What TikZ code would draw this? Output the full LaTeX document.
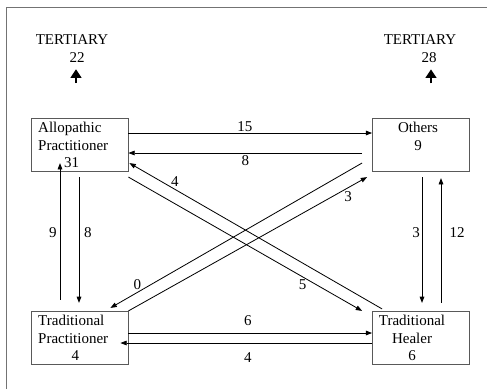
\documentclass[tikz,border=0pt]{standalone}
\usepackage{fontspec}
\setmainfont{Liberation Serif}
\usepackage{tikz}
\usetikzlibrary{arrows.meta,calc}

\begin{document}
\begin{tikzpicture}[x=0.03cm, y=-0.03cm,
    font=\fontsize{12.8}{15}\selectfont,
    box/.style={draw=black!65, line width=0.7pt, minimum width=2.91cm, minimum height=1.6cm, inner sep=0pt},
    txt/.style={inner sep=0pt},
    num/.style={inner sep=1pt},
    flow/.style={line width=0.7pt, -{Triangle[length=1.9mm, width=1.4mm]}},
    tert/.style={line width=2pt, -{Triangle[length=2.6mm, width=3.2mm]}}]
    \useasboundingbox (0,0) rectangle (487,389);

    % Frame
    \draw[black!55, line width=0.8pt] (6,389) -- (6,7) -- (487,7);

    % Tertiary referrals
    \node[txt] (tert1) at (72,40) {TERTIARY};
    \node[txt] (n22) at (77,58) {22};
    \coordinate (up1) at ($(n22.south)+(-1,20)$);
    \draw[tert] (up1) -- ++(0,-14);

    \node[txt] (tert2) at (420,40) {TERTIARY};
    \node[txt] (n28) at (429,58) {28};
    \coordinate (up2) at ($(n28.south)+(2,20)$);
    \draw[tert] (up2) -- ++(0,-14);

    % Boxes
    \node[box] (ap) at (79.5,145) {};
    \node[box] (ot) at (421,145) {};
    \node[box] (tp) at (79.5,338) {};
    \node[box] (th) at (421,338) {};

    \node[txt, anchor=north west, align=left] (aptext) at (38,122) {Allopathic\\Practitioner\\\hspace*{0.78cm}31};
    \node[txt, anchor=north, align=center] (ottext) at (418,122) {Others\\9};
    \node[txt, anchor=north west, align=left] (tptext) at (38,315) {Traditional\\Practitioner\\\hspace*{1.0cm}4};
    \node[txt, anchor=north, align=center] (thtext) at (412,315) {Traditional\\Healer\\6};

    % Top row
    \draw[flow] ($(ap.east)+(0,-12)$) -- node[num, pos=0.478, above] (l15) {15} ($(ot.west)+(0,-12)$);
    \draw[flow] ($(ot.west)+(-10,8)$) -- node[num, pos=0.5, below=1pt] (l8a) {8} ($(ap.east)+(0,8)$);

    % Bottom row
    \draw[flow] ($(tp.east)+(0,-5)$) -- node[num, pos=0.49, above=5pt] (l6) {6} ($(th.west)+(0,-5)$);
    \draw[flow] ($(th.west)+(0,5)$) -- node[num, pos=0.494, below=6.5pt] (l4b) {4} ($(tp.east)+(-8,5)$);

    % Left column
    \draw[flow] ($(tp.north)+(-19.5,-11)$) -- node[num, pos=0.49, left=1.5pt] (l9) {9} ($(ap.south)+(-19.5,-9)$);
    \draw[flow] ($(ap.south)+(-0.5,5)$) -- node[num, pos=0.44, right=3pt] (l8b) {8} ($(tp.north)+(-0.5,-8)$);

    % Right column
    \draw[flow] ($(ot.south)+(1,5)$) -- node[num, pos=0.44, left=0.5pt] (l3a) {3} ($(th.north)+(1,-8)$);
    \draw[flow] ($(th.north)+(20,-8)$) -- node[num, pos=0.56, right=6pt] (l12) {12} ($(ot.south)+(20,6)$);

    % Diagonals
    \draw[flow] (tp.north east) -- node[num, pos=0.921, below=2pt] (l3b) {3} ($(ot.south west)+(-5,5)$);
    \draw[flow] ($(ot.west)+(-10,18)$) -- node[num, pos=0.893, above=1pt] (l0) {0} ($(tp.north east)+(-18,-3)$);
    \draw[flow] ($(th.north west)+(10,-2)$) -- node[num, pos=0.82, above=1pt] (l4a) {4} ($(ap.south east)+(1,-9)$);
    \draw[flow] ($(ap.south east)+(0,5)$) -- node[num, pos=0.745, below=1pt] (l5) {5} ($(th.north west)+(-10,0)$);
\end{tikzpicture}
\end{document}
